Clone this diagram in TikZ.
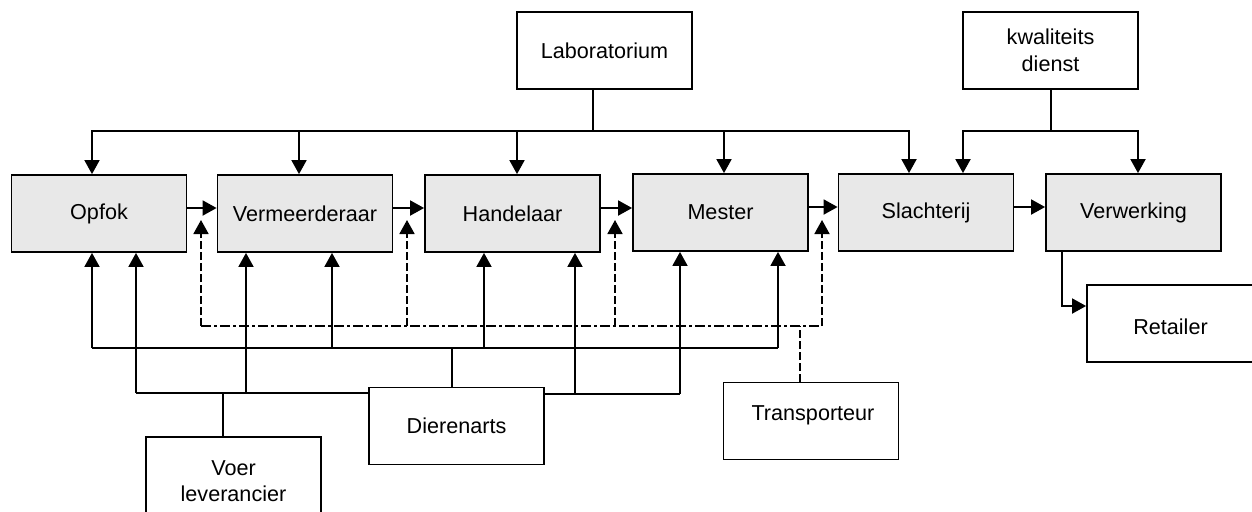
\documentclass[tikz,border=0pt]{standalone}
\usepackage{fontspec}
\setmainfont{Liberation Sans}
\usetikzlibrary{arrows.meta}
\definecolor{boxgrey}{HTML}{E8E8E8}
\tikzset{
  base/.style={draw=black, line width=0.9pt, minimum width=87.5pt, minimum height=38.5pt, inner sep=0pt, align=center},
  mbox/.style={base, fill=boxgrey},
  wbox/.style={base, fill=white},
  lbl/.style={align=center, inner sep=0pt},
  conn/.style={line width=0.9pt},
  arr/.style={conn, -{Triangle[length=7pt,width=7.5pt]}},
  dsh/.style={conn, dash pattern=on 4pt off 1.5pt},
  dasharr/.style={dsh, -{Triangle[length=7pt,width=7.5pt]}},
  dashdot/.style={conn, dash pattern=on 5pt off 1.5pt on 1.5pt off 1.5pt},
}
\begin{document}
\begin{tikzpicture}[x=0.5pt, y=-0.5pt, font=\fontsize{10.8}{13.3}\selectfont]
\clip (0,0) rectangle (1252,511);
\fill[white] (0,0) rectangle (1252,511);

% main chain
\node[mbox] (opfok)  at (99,213.5)    {Opfok};
\node[mbox] (verm)   at (305,213.5)   {Vermeerderaar};
\node[mbox] (handel) at (512.5,213.5) {Handelaar};
\node[mbox] (mester) at (720.5,212.5) {Mester};
\node[mbox] (slacht) at (926,212.5)   {Slachterij};
\node[mbox] (verw)   at (1133.5,212.5) {Verwerking};

% other boxes
\node[wbox] (lab)    at (604.5,50.5)  {Laboratorium};
\node[wbox] (kwal)   at (1050.5,50.5) {kwaliteits\\dienst};
\node[wbox] (retail) at (1174.5,323.5) {};
\node[lbl] (retailt) at (1170.5,327) {Retailer};
\node[wbox] (transp) at (811,421)     {};
\node[lbl] (transpt) at (813,415) {Transporteur};
\node[wbox] (dier)   at (456.5,426)   {Dierenarts};
\node[wbox] (voer)   at (233.5,475.5) {};
\node[lbl] (voert) at (233.5,481) {Voer\\leverancier};

% Laboratorium bus
\coordinate (labbus) at (593,131);
\coordinate (lb2) at (299,131);
\coordinate (lb3) at (517,131);
\coordinate (lb4) at (724,131);
\draw[conn] (lab.south -| labbus) -- (labbus);
\draw[arr] (labbus) -| (opfok.north -| 92,0);
\draw[arr] (labbus) -| (slacht.north -| 909,0);
\draw[arr] (lb2) -- (lb2 |- verm.north);
\draw[arr] (lb3) -- (lb3 |- handel.north);
\draw[arr] (lb4) -- (lb4 |- mester.north);

% kwaliteitsdienst bus
\coordinate (kb) at (1051,131);
\draw[conn] (kwal.south -| kb) -- (kb);
\draw[arr] (kb) -| (slacht.north -| 963,0);
\draw[arr] (kb) -| (verw.north -| 1138,0);

% chain arrows
\draw[arr] (opfok.east |- 0,208) -- (verm.west |- 0,208);
\draw[arr] (verm.east |- 0,208) -- (handel.west |- 0,208);
\draw[arr] (handel.east |- 0,208) -- (mester.west |- 0,208);
\draw[arr] (mester.east |- 0,207) -- (slacht.west |- 0,207);
\draw[arr] (slacht.east |- 0,207) -- (verw.west |- 0,207);

% Retailer
\coordinate (rt) at (1062,306);
\draw[arr] (verw.south -| rt) -- (rt) -- (rt -| retail.west);

% Transporteur dashed network
\coordinate (d1) at (201,326);
\coordinate (d2) at (407,326);
\coordinate (d3) at (615,326);
\coordinate (d4) at (822,326);
\coordinate (tb) at (800,326);
\draw[dashdot] (d1) -- (d4);
\draw[dasharr] (d1) -- (d1 |- 0,220);
\draw[dasharr] (d2) -- (d2 |- 0,220);
\draw[dasharr] (d3) -- (d3 |- 0,220);
\draw[dasharr] (d4) -- (d4 |- 0,220);
\draw[dsh] (transp.north -| tb) -- (tb);

% bus A (Dierenarts)
\coordinate (a1) at (92,348);
\coordinate (a2) at (332,348);
\coordinate (a3) at (484,348);
\coordinate (a4) at (778,348);
\coordinate (a5) at (452,348);
\draw[conn] (a1) -- (a4);
\draw[arr] (a1) -- (a1 |- opfok.south);
\draw[arr] (a2) -- (a2 |- verm.south);
\draw[arr] (a3) -- (a3 |- handel.south);
\draw[arr] (a4) -- (a4 |- mester.south);
\draw[conn] (dier.north -| a5) -- (a5);

% bus B (Voer leverancier / Dierenarts)
\coordinate (b1) at (136,393);
\coordinate (b2) at (246,393);
\coordinate (b3) at (223,393);
\draw[conn] (b1) -- (b1 -| dier.west);
\draw[arr] (b1) -- (b1 |- opfok.south);
\draw[arr] (b2) -- (b2 |- verm.south);
\draw[conn] (voer.north -| b3) -- (b3);

% bus C (Dierenarts right)
\coordinate (c1) at (575,394);
\coordinate (c2) at (680,394);
\draw[conn] (c2 -| dier.east) -- (c2);
\draw[arr] (c1) -- (c1 |- handel.south);
\draw[arr] (c2) -- (c2 |- mester.south);
\end{tikzpicture}
\end{document}
